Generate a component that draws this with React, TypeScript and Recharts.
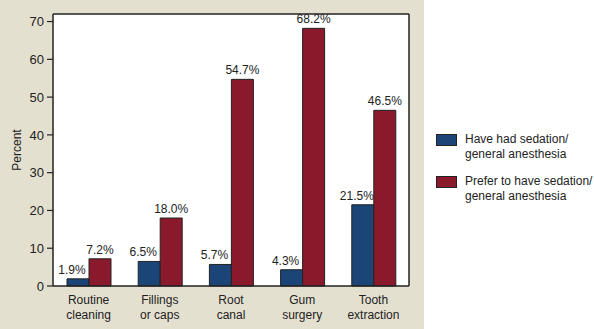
import { Bar, BarChart, CartesianGrid, LabelList, XAxis, YAxis } from "recharts";

const categories = ["Routine\ncleaning", "Fillings\nor caps", "Root\ncanal", "Gum\nsurgery", "Tooth\nextraction"];
const hadSedation = [1.9, 6.5, 5.7, 4.3, 21.5];
const preferSedation = [7.2, 18.0, 54.7, 68.2, 46.5];
const yTicks = [0, 10, 20, 30, 40, 50, 60, 70];

const seriesNames = ["Have had sedation/\ngeneral anesthesia", "Prefer to have sedation/\ngeneral anesthesia"];

const BLUE = "#1b4577";
const RED = "#8a1a2b";
const INK = "#222";
const FONT = '"Liberation Sans", Arial, Helvetica, sans-serif';

const data = categories.map((name, i) => ({
  name,
  had: hadSedation[i],
  prefer: preferSedation[i],
}));

function CategoryTick(props: any) {
  const { x, y, payload } = props;
  const lines = String(payload.value).split("\n");
  return (
    <text x={x} y={y} textAnchor="middle" fill={INK} fontSize={12} fontFamily={FONT}>
      {lines.map((l, i) => (
        <tspan key={i} x={x} dy={i === 0 ? 10 : 15}>
          {l}
        </tspan>
      ))}
    </text>
  );
}

function LegendBox() {
  const colors = [BLUE, RED];
  return (
    <div
      style={{
        position: "absolute",
        left: 436,
        top: 132,
        fontFamily: FONT,
        fontSize: 12,
        color: INK,
      }}
    >
      {seriesNames.map((n, i) => (
        <div key={n} style={{ display: "flex", alignItems: "flex-start", marginBottom: 12 }}>
          <div
            style={{
              width: 19,
              height: 10,
              background: colors[i],
              border: "1px solid #222",
              marginTop: 2,
              marginRight: 8,
              flexShrink: 0,
            }}
          />
          <div style={{ lineHeight: "15px", whiteSpace: "pre" }}>{n}</div>
        </div>
      ))}
    </div>
  );
}

const fmt = (v: any) => `${Number(v).toFixed(1)}%`;

export default function App() {
  return (
    <div
      style={{
        position: "absolute",
        left: 0,
        top: 0,
        width: 594,
        height: 329,
        background: "linear-gradient(to right, #e4e0cf 0px, #e4e0cf 424px, #ffffff 424px)",
      }}
    >
      <BarChart
        width={594}
        height={329}
        data={data}
        margin={{ top: 14, right: 185, bottom: 0, left: 0 }}
        barGap={0}
        barSize={22}
      >
        <CartesianGrid
          fill="#fff"
          stroke={INK}
          strokeWidth={1.5}
          horizontalCoordinatesGenerator={({ offset }: any) => [offset.top]}
          verticalCoordinatesGenerator={({ offset }: any) => [offset.left + offset.width]}
        />
        <XAxis
          dataKey="name"
          height={43}
          tickLine={false}
          axisLine={{ stroke: INK, strokeWidth: 1.5 }}
          tick={<CategoryTick />}
          interval={0}
        />
        <YAxis
          domain={[0, 72]}
          ticks={yTicks}
          width={53}
          tickSize={6}
          tickMargin={3}
          tickLine={{ stroke: INK, strokeWidth: 1.2 }}
          axisLine={{ stroke: INK, strokeWidth: 1.5 }}
          tick={{ fill: INK, fontSize: 13, fontFamily: FONT }}
          label={{
            content: (p: any) => {
              const vb = p.viewBox || { x: 0, y: 14, width: 53, height: 272 };
              const cx = vb.x + 17;
              const cy = vb.y + vb.height / 2;
              return (
                <text
                  x={cx}
                  y={cy}
                  transform={`rotate(-90 ${cx} ${cy})`}
                  textAnchor="middle"
                  dominantBaseline="central"
                  fill={INK}
                  fontSize={12}
                  fontFamily={FONT}
                >
                  Percent
                </text>
              );
            },
          }}
        />
        <Bar dataKey="had" name={seriesNames[0]} fill={BLUE} stroke={INK} strokeWidth={1} isAnimationActive={false}>
          <LabelList
            dataKey="had"
            position="top"
            offset={5}
            dx={-6}
            formatter={fmt}
            fill={INK}
            fontSize={12}
            fontFamily={FONT}
          />
        </Bar>
        <Bar dataKey="prefer" name={seriesNames[1]} fill={RED} stroke={INK} strokeWidth={1} isAnimationActive={false}>
          <LabelList
            dataKey="prefer"
            position="top"
            offset={5}
            formatter={fmt}
            fill={INK}
            fontSize={12}
            fontFamily={FONT}
          />
        </Bar>
      </BarChart>
      <LegendBox />
    </div>
  );
}
